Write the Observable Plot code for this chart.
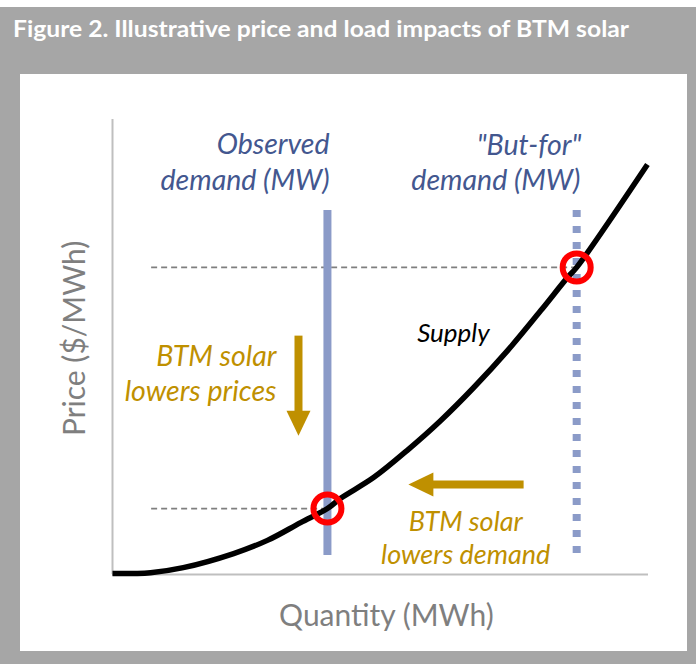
<!DOCTYPE html>
<html>
<head>
<meta charset="utf-8">
<script src="https://cdn.jsdelivr.net/npm/d3@7"></script>
<script src="https://cdn.jsdelivr.net/npm/@observablehq/plot@0.6"></script>
<style>
  html, body { margin: 0; padding: 0; background: #ffffff; }
  #page { position: relative; width: 696px; height: 664px; overflow: hidden; background: #ffffff; }
  #frame { position: absolute; left: 0; top: 7px; width: 696px; height: 657px; background: #a6a6a6; }
  #title { position: absolute; left: 13px; top: 11px; font-family: Lato, "Open Sans", sans-serif; font-weight: 700;
           font-size: 22px; line-height: 22px; color: #ffffff; white-space: nowrap; transform-origin: left center; }
  #panel { position: absolute; left: 20px; top: 67px; width: 667px; height: 577px; background: #ffffff; }
  #panel svg { display: block; overflow: visible; }
</style>
</head>
<body>
<div id="page">
  <div id="frame">
    <div id="title">Figure 2. Illustrative price and load impacts of BTM solar</div>
    <div id="panel"></div>
  </div>
</div>
<script>
// ---------- data ----------
const titleText = "Figure 2. Illustrative price and load impacts of BTM solar";
const xLabel = "Quantity (MWh)";
const yLabel = "Price ($/MWh)";
const axisDomain = [0, 100];

// supply curve (quantity, price)
const supplyQ = [0, 7.1, 13.2, 22.6, 28.9, 35.1, 40.1, 42.5, 48.7, 55.0, 61.2, 67.4, 73.7, 79.9, 84.9, 86.6, 99.8];
const supplyP = [0.2, 0.4, 1.5, 4.6, 7.5, 11.4, 14.5, 16.7, 21.3, 27.3, 33.8, 41.1, 49.2, 58.0, 65.3, 67.5, 90.1];

// demand lines
const demandNames = ["Observed", "But-for"];
const demandQ = [40.1, 86.6];
const demandLow = [4.2, 4.2];
const demandHigh = [80, 80];

// equilibria (circles) and dashed price guides
const eqQ = [40.1, 86.6];
const eqP = [14.5, 67.5];
const guideStartQ = [7.3, 7.3];

// arrows: tail, end of shaft, tip
const arrowNames = ["prices", "demand"];
const arrowTailQ = [34.7, 76.7];
const arrowTailP = [52.5, 19.8];
const arrowShaftEndQ = [34.7, 59.0];
const arrowShaftEndP = [35.2, 19.8];
const arrowTipQ = [34.7, 55.2];
const arrowTipP = [30.5, 19.8];
const arrowAngle = [0, 90];

// annotation labels
const labelText = ["Observed", "demand (MW)", "\"But-for\"", "demand (MW)", "Supply",
                   "BTM solar", "lowers prices", "BTM solar", "lowers demand"];
const labelQ = [40.5, 40.5, 87.5, 87.3, 63.6, 30.6, 30.6, 65.9, 65.9];
const labelP = [92.5, 84.6, 92.1, 84.4, 51.0, 45.9, 38.2, 9.5, 2.4];
const labelGroup = ["demand", "demand", "demand", "demand", "supply", "prices", "prices", "load", "load"];

// axis titles positions
const axisTitleQ = [51.1, -6.9];
const axisTitleP = [-11.4, 51.9];

// ---------- build tables ----------
const supply = supplyQ.map((q, i) => ({q, p: supplyP[i]}));
const demand = demandNames.map((name, i) => ({name, q: demandQ[i], lo: demandLow[i], hi: demandHigh[i]}));
const equilibria = eqQ.map((q, i) => ({q, p: eqP[i], q0: guideStartQ[i]}));
const arrows = arrowNames.map((name, i) => ({
  name, x1: arrowTailQ[i], y1: arrowTailP[i], x2: arrowShaftEndQ[i], y2: arrowShaftEndP[i],
  tx: arrowTipQ[i], ty: arrowTipP[i], rot: arrowAngle[i]
}));
const labels = labelText.map((text, i) => ({text, q: labelQ[i], p: labelP[i], group: labelGroup[i]}));

const BLUE_LINE = "#8b9bc8";
const BLUE_TEXT = "#43578f";
const GOLD = "#bf9000";
const GRAY_AXIS = "#bfbfbf";
const GRAY_TEXT = "#7f7f7f";
const FONT = "Lato, 'Open Sans', sans-serif";

const arrowHead = {
  draw(ctx) {
    ctx.moveTo(0, 0);
    ctx.lineTo(-12, -25);
    ctx.lineTo(12, -25);
    ctx.closePath();
  }
};

const textCommon = {fontFamily: FONT, fontStyle: "italic", lineAnchor: "bottom"};

const chart = Plot.plot({
  width: 667,
  height: 577,
  marginLeft: 92,
  marginRight: 39,
  marginTop: 45,
  marginBottom: 77,
  x: {domain: axisDomain, axis: null},
  y: {domain: axisDomain, axis: null},
  style: {background: "transparent", overflow: "visible"},
  marks: [
    // axis lines
    Plot.ruleX([axisDomain[0]], {y1: axisDomain[0], y2: axisDomain[1], stroke: GRAY_AXIS, strokeWidth: 2}),
    Plot.ruleY([axisDomain[0]], {x1: axisDomain[0], x2: axisDomain[1], stroke: GRAY_AXIS, strokeWidth: 2}),
    // dashed price guides
    Plot.ruleY(equilibria, {y: "p", x1: "q0", x2: "q", stroke: GRAY_TEXT, strokeWidth: 1.8, strokeDasharray: "6,4"}),
    // demand lines
    Plot.ruleX(demand.filter(d => d.name === "Observed"), {x: "q", y1: "lo", y2: "hi", stroke: BLUE_LINE, strokeWidth: 8}),
    Plot.ruleX(demand.filter(d => d.name === "But-for"), {x: "q", y1: "hi", y2: "lo", stroke: BLUE_LINE, strokeWidth: 8, strokeDasharray: "7,9", strokeLinecap: "butt"}),
    // supply curve
    Plot.line(supply, {x: "q", y: "p", curve: "catmull-rom", stroke: "#000000", strokeWidth: 5.5, strokeLinecap: "butt"}),
    // equilibrium circles
    Plot.dot(equilibria, {x: "q", y: "p", r: 14, stroke: "#ff0000", strokeWidth: 6, fill: "none"}),
    // arrows
    Plot.link(arrows, {x1: "x1", y1: "y1", x2: "x2", y2: "y2", stroke: GOLD, strokeWidth: 8}),
    Plot.dot(arrows, {x: "tx", y: "ty", symbol: arrowHead, rotate: "rot", fill: GOLD, stroke: "none", r: 5}),
    // annotation labels
    Plot.text(labels.filter(d => d.group === "demand"), {x: "q", y: "p", text: "text", textAnchor: "end", fill: BLUE_TEXT, fontSize: 28.5, ...textCommon}),
    Plot.text(labels.filter(d => d.group === "supply"), {x: "q", y: "p", text: "text", textAnchor: "middle", fill: "#000000", fontSize: 26, ...textCommon}),
    Plot.text(labels.filter(d => d.group === "prices"), {x: "q", y: "p", text: "text", textAnchor: "end", fill: GOLD, fontSize: 28.5, ...textCommon}),
    Plot.text(labels.filter(d => d.group === "load"), {x: "q", y: "p", text: "text", textAnchor: "middle", fill: GOLD, fontSize: 27, ...textCommon}),
    // axis titles
    Plot.text([xLabel], {x: [axisTitleQ[0]], y: [axisTitleP[0]], text: d => d, textAnchor: "middle", lineAnchor: "bottom", fill: GRAY_TEXT, fontFamily: FONT, fontSize: 30}),
    Plot.text([yLabel], {x: [axisTitleQ[1]], y: [axisTitleP[1]], text: d => d, textAnchor: "middle", lineAnchor: "middle", rotate: -90, fill: GRAY_TEXT, fontFamily: FONT, fontSize: 30})
  ]
});

document.getElementById("panel").appendChild(chart);

// fit the title to the reference width
const titleEl = document.getElementById("title");
titleEl.textContent = titleText;
const targetW = 616;
const w = titleEl.getBoundingClientRect().width;
if (w > 0) titleEl.style.transform = `scaleX(${targetW / w})`;
</script>
</body>
</html>
